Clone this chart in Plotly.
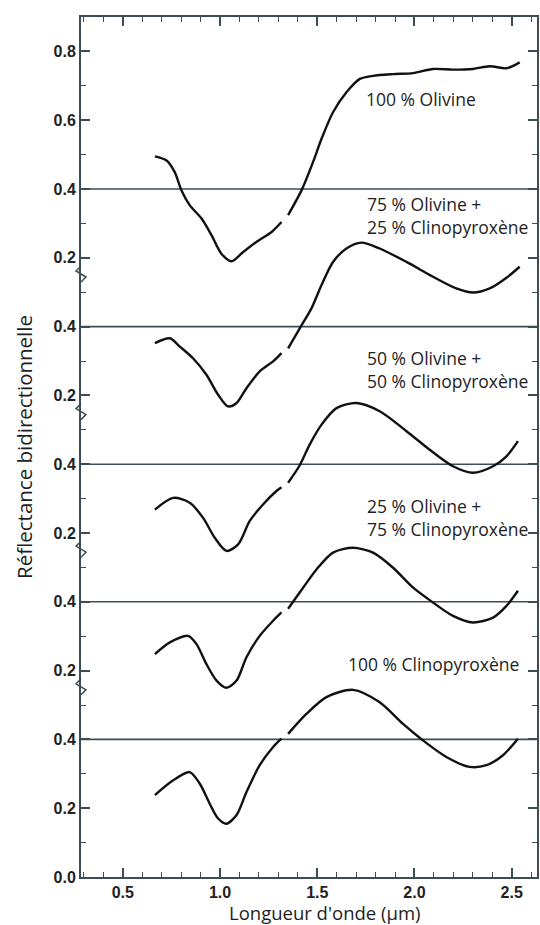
import plotly.graph_objects as go

# ---------------- data ----------------
# wavelengths in µm, reflectance local to each panel; None = gap in the record
labels = ["100 % Olivine", "75 % Olivine +<br>25 % Clinopyroxène",
          "50 % Olivine +<br>50 % Clinopyroxène", "25 % Olivine +<br>75 % Clinopyroxène",
          "100 % Clinopyroxène"]
offsets = [1.6, 1.2, 0.8, 0.4, 0.0]

wl_ol100 = [0.665, 0.725, 0.767, 0.802, 0.844, 0.905, 0.956, 1.007, 1.059, 1.119, 1.187, 1.265, 1.316, None,
            1.350, 1.419, 1.478, 1.522, 1.581, 1.650, 1.719, 1.787, 1.890, 1.993, 2.095, 2.198, 2.301, 2.387, 2.473, 2.541]
r_ol100 = [0.495, 0.483, 0.449, 0.396, 0.353, 0.314, 0.266, 0.212, 0.190, 0.217, 0.246, 0.275, 0.304, None,
           0.324, 0.396, 0.478, 0.546, 0.623, 0.681, 0.720, 0.729, 0.734, 0.737, 0.749, 0.747, 0.749, 0.757, 0.751, 0.768]

wl_ol75 = [0.665, 0.742, 0.793, 0.861, 0.930, 0.990, 1.041, 1.085, 1.136, 1.204, 1.273, 1.316, None,
           1.350, 1.410, 1.470, 1.522, 1.581, 1.650, 1.727, 1.821, 1.959, 2.095, 2.215, 2.301, 2.387, 2.473, 2.541]
r_ol75 = [0.352, 0.366, 0.342, 0.308, 0.260, 0.202, 0.168, 0.178, 0.221, 0.270, 0.299, 0.323, None,
          0.337, 0.395, 0.453, 0.521, 0.588, 0.627, 0.644, 0.627, 0.588, 0.545, 0.511, 0.499, 0.511, 0.542, 0.574]

wl_ol50 = [0.665, 0.759, 0.844, 0.913, 0.973, 1.033, 1.093, 1.153, 1.221, 1.290, 1.316, None,
           1.350, 1.410, 1.461, 1.522, 1.599, 1.702, 1.821, 1.959, 2.078, 2.198, 2.301, 2.404, 2.473, 2.532]
r_ol50 = [0.268, 0.302, 0.288, 0.244, 0.186, 0.148, 0.167, 0.235, 0.283, 0.322, 0.333, None,
          0.346, 0.397, 0.457, 0.515, 0.563, 0.578, 0.554, 0.496, 0.442, 0.394, 0.375, 0.394, 0.423, 0.467]

wl_ol25 = [0.665, 0.742, 0.836, 0.879, 0.930, 0.982, 1.033, 1.085, 1.136, 1.204, 1.273, 1.316, None,
           1.350, 1.427, 1.496, 1.581, 1.684, 1.787, 1.890, 1.993, 2.095, 2.198, 2.301, 2.404, 2.473, 2.532]
r_ol25 = [0.248, 0.282, 0.301, 0.277, 0.219, 0.171, 0.150, 0.171, 0.239, 0.301, 0.345, 0.369, None,
          0.380, 0.441, 0.494, 0.543, 0.557, 0.543, 0.499, 0.441, 0.398, 0.359, 0.340, 0.354, 0.388, 0.432]

wl_cpx = [0.665, 0.759, 0.844, 0.896, 0.947, 0.990, 1.033, 1.085, 1.136, 1.204, 1.273, 1.316, None,
          1.350, 1.444, 1.547, 1.684, 1.821, 1.941, 2.044, 2.164, 2.284, 2.370, 2.455, 2.532]
r_cpx = [0.238, 0.281, 0.305, 0.271, 0.213, 0.170, 0.155, 0.180, 0.247, 0.325, 0.378, 0.402, None,
         0.416, 0.474, 0.523, 0.544, 0.508, 0.445, 0.397, 0.349, 0.320, 0.325, 0.354, 0.402]

wavelengths = [wl_ol100, wl_ol75, wl_ol50, wl_ol25, wl_cpx]
reflectances = [r_ol100, r_ol75, r_ol50, r_ol25, r_cpx]

# label anchor positions (wavelength, stacked-axis value)
label_x = [1.739, 1.744, 1.744, 1.744, 1.650]
label_y = [2.262, 1.923, 1.475, 1.044, 0.620]

y_tickvals = [0.0, 0.2, 0.4, 0.6, 0.8, 1.0, 1.2, 1.4, 1.6, 1.8, 2.0, 2.2, 2.4]
y_ticktext = ["0.0", "0.2", "0.4", "0.2", "0.4", "0.2", "0.4", "0.2", "0.4", "0.2", "0.4", "0.6", "0.8"]
x_tickvals = [0.5, 1.0, 1.5, 2.0, 2.5]
x_ticktext = ["0.5", "1.0", "1.5", "2.0", "2.5"]

# ---------------- figure ----------------
AX = "#3e4d54"
TXT = "#1e1e1e"
TEXTFONT = "Open Sans"

fig = go.Figure()
for wl, r, off in zip(wavelengths, reflectances, offsets):
    y = [None if v is None else v + off for v in r]
    fig.add_trace(go.Scatter(x=wl, y=y, mode="lines", connectgaps=False,
                             line=dict(color="#111111", width=2.4, shape="spline", smoothing=0.8),
                             hoverinfo="skip", showlegend=False))

shapes = []
for off in offsets:
    shapes.append(dict(type="line", xref="paper", yref="y", x0=0, x1=1, y0=off + 0.4, y1=off + 0.4,
                       line=dict(color=AX, width=1.6), layer="below"))
for off in offsets[:-1]:
    shapes.append(dict(type="path", xref="paper", yref="y", xsizemode="pixel", ysizemode="pixel",
                       xanchor=0, yanchor=off + 0.15,
                       path="M 0 9 L -5 4 L 5 -2 L 0 -7",
                       line=dict(color=AX, width=1.5)))

annotations = []
for lab, lx, ly in zip(labels, label_x, label_y):
    annotations.append(dict(x=lx, y=ly, xref="x", yref="y", text=lab, showarrow=False,
                            xanchor="left", yanchor="middle", align="left",
                            font=dict(family=TEXTFONT, size=17.5, color=TXT)))
annotations.append(dict(x=0.535, y=-0.0413, xref="paper", yref="paper", text="Longueur d'onde (µm)",
                        showarrow=False, xanchor="center", yanchor="middle",
                        font=dict(family=TEXTFONT, size=18.5, color=TXT)))

tickfont = dict(family="Liberation Sans", size=16, color="#222222", weight="bold")
fig.update_layout(
    width=540, height=925,
    margin=dict(l=81, r=3, t=17, b=48),
    paper_bgcolor="white", plot_bgcolor="white",
    showlegend=False,
    shapes=shapes, annotations=annotations,
    xaxis=dict(range=[0.285, 2.63], tickvals=x_tickvals, ticktext=x_ticktext,
               ticks="inside", ticklen=9, tickwidth=1.5, tickcolor=AX,
               minor=dict(dtick=0.1, tick0=0, ticks="inside", ticklen=5, tickwidth=1.2, tickcolor=AX),
               showline=True, linecolor=AX, linewidth=2, mirror="ticks",
               showgrid=False, zeroline=False, tickfont=tickfont, automargin=False),
    yaxis=dict(range=[0, 2.5], tickvals=y_tickvals, ticktext=y_ticktext,
               ticks="inside", ticklen=9, tickwidth=1.5, tickcolor=AX,
               minor=dict(dtick=0.1, tick0=0, ticks="inside", ticklen=5, tickwidth=1.2, tickcolor=AX),
               showline=True, linecolor=AX, linewidth=2, mirror="ticks",
               showgrid=False, zeroline=False, tickfont=tickfont, automargin=False,
               title=dict(text="Réflectance bidirectionnelle", standoff=15,
                          font=dict(family=TEXTFONT, size=20.5, color=TXT))),
)

fig.write_html("out.html", config={"displayModeBar": False},
               post_script="document.body.style.margin='0';document.body.style.overflow='hidden';")
